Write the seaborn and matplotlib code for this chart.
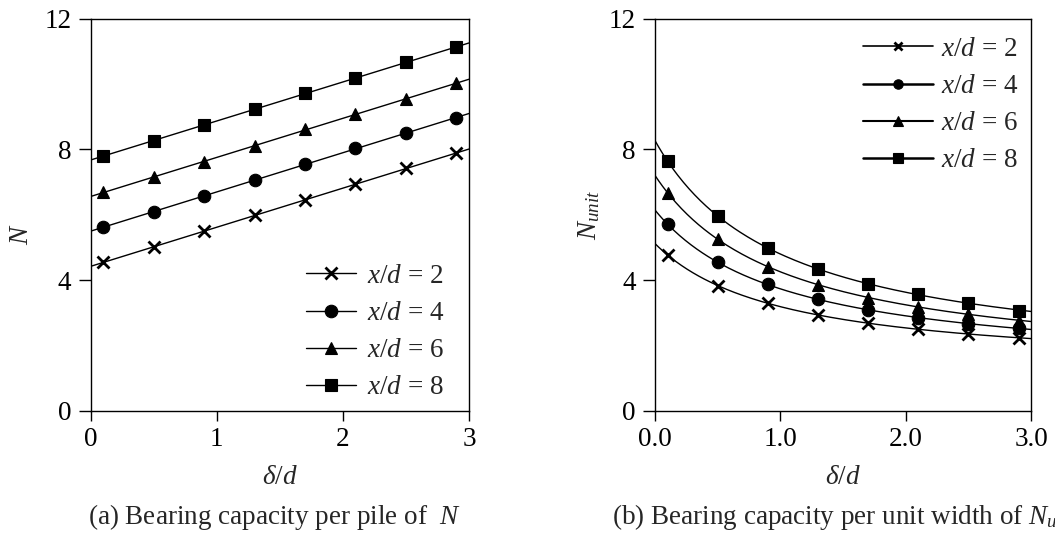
import numpy as np
import pandas as pd
import matplotlib
matplotlib.use("Agg")
import matplotlib.pyplot as plt
import seaborn as sns
from matplotlib.lines import Line2D

# ---------------- data ----------------
delta = [0.1, 0.5, 0.9, 1.3, 1.7, 2.1, 2.5, 2.9]
series_labels = ["2", "4", "6", "8"]
markers = ["x", "o", "^", "s"]

# (a) bearing capacity per pile N
N_2 = [4.54, 5.00, 5.51, 5.99, 6.45, 6.93, 7.42, 7.88]
N_4 = [5.61, 6.09, 6.58, 7.06, 7.55, 8.03, 8.51, 8.95]
N_6 = [6.68, 7.16, 7.62, 8.11, 8.61, 9.07, 9.55, 10.02]
N_8 = [7.80, 8.27, 8.74, 9.23, 9.72, 10.17, 10.66, 11.14]

# (b) bearing capacity per unit width N_unit
Nu_2 = [4.77, 3.82, 3.29, 2.93, 2.69, 2.50, 2.35, 2.22]
Nu_4 = [5.71, 4.54, 3.87, 3.41, 3.08, 2.85, 2.67, 2.52]
Nu_6 = [6.67, 5.25, 4.41, 3.86, 3.46, 3.18, 2.96, 2.76]
Nu_8 = [7.64, 5.96, 4.97, 4.35, 3.88, 3.56, 3.31, 3.06]

ticks_a_x = [0, 1, 2, 3]
ticks_a_xl = ["0", "1", "2", "3"]
ticks_b_xl = ["0.0", "1.0", "2.0", "3.0"]
ticks_y = [0, 4, 8, 12]

# ---------------- style ----------------
sns.set_theme(style="ticks")
plt.rcParams["font.family"] = ["Liberation Serif", "DejaVu Serif"]
plt.rcParams["mathtext.fontset"] = "custom"
plt.rcParams["mathtext.rm"] = "Liberation Serif"
plt.rcParams["mathtext.it"] = "Liberation Serif:italic"
plt.rcParams["axes.linewidth"] = 1.0
FS = 19.5

fig = plt.figure(figsize=(10.55, 5.42), dpi=100)
axA = fig.add_axes([0.086, 0.2422, 0.3585, 0.7233])
axB = fig.add_axes([0.6209, 0.2422, 0.3564, 0.7233])

x = np.array(delta)
xf = np.linspace(0, 3, 200)


def hyper_fit(xv, yv):
    best = None
    for c in np.linspace(0.05, 5, 400):
        A = np.column_stack([np.ones_like(xv), 1.0 / (xv + c)])
        coef, *_ = np.linalg.lstsq(A, yv, rcond=None)
        r = np.sum((A @ coef - yv) ** 2)
        if best is None or r < best[0]:
            best = (r, c, coef)
    _, c, coef = best
    return lambda t: coef[0] + coef[1] / (t + c)


def draw(ax, ys, kind):
    for lab, mk, yv in zip(series_labels, markers, ys):
        yv = np.array(yv)
        if kind == "lin":
            p = np.polyfit(x, yv, 1)
            yf = np.polyval(p, xf)
        else:
            yf = hyper_fit(x, yv)(xf)
        sns.lineplot(x=xf, y=yf, ax=ax, color="black", lw=1.0, legend=False)
        ms = 9 if mk != "x" else 8.5
        ax.plot(x, yv, linestyle="none", marker=mk, color="black",
                markersize=ms, markeredgewidth=2.0 if mk == "x" else 0.8,
                clip_on=False, zorder=3)


draw(axA, [N_2, N_4, N_6, N_8], "lin")
draw(axB, [Nu_2, Nu_4, Nu_6, Nu_8], "hyp")

for ax, xtl in ((axA, ticks_a_xl), (axB, ticks_b_xl)):
    ax.set_xlim(0, 3)
    ax.set_ylim(0, 12)
    ax.set_xticks(ticks_a_x)
    ax.set_xticklabels(xtl)
    ax.set_yticks(ticks_y)
    ax.set_yticklabels([str(t) for t in ticks_y])
    ax.tick_params(axis="y", direction="out", length=9, width=1.0,
                   labelsize=FS, pad=5, colors="black")
    ax.tick_params(axis="x", direction="out", length=7, width=1.0,
                   labelsize=FS, pad=5, colors="black")
    for s in ax.spines.values():
        s.set_visible(True)
        s.set_color("black")
        s.set_linewidth(1.0)
    ax.set_xlabel(r"$\delta/d$", fontsize=FS, labelpad=9)

axA.set_ylabel(r"$N$", fontsize=FS)
axA.yaxis.set_label_coords(-0.15, 0.45)
axB.set_ylabel(r"$N_{unit}$", fontsize=FS)
axB.yaxis.set_label_coords(-0.14, 0.5)


def handles(ms_scale, lws):
    hs = []
    for mk, lw in zip(markers, lws):
        hs.append(Line2D([0], [0], color="black", lw=lw, marker=mk,
                         markersize=(9 if mk != "x" else 8.5) * ms_scale,
                         markeredgewidth=2.0 if mk == "x" else 0.8))
    return hs


labels = [r"$x/d$ = " + s for s in series_labels]
axA.legend(handles(1.0, [1.0] * 4), labels, loc="lower right",
           bbox_to_anchor=(0.977, -0.015), frameon=False, fontsize=FS,
           handlelength=1.85, handletextpad=0.4, labelspacing=0.45,
           borderaxespad=0.2)
axB.legend(handles(0.75, [1.2, 1.8, 1.5, 1.8]), labels, loc="upper right",
           bbox_to_anchor=(1.01, 0.995), frameon=False, fontsize=FS,
           handlelength=2.6, handletextpad=0.3, labelspacing=0.45,
           borderaxespad=0.2)

fig.text(0.26, 0.047, r"(a) Bearing capacity per pile of  $N$",
         ha="center", va="center", fontsize=FS)
fig.text(0.580, 0.047, r"(b) Bearing capacity per unit width of $N_{unit}$",
         ha="left", va="center", fontsize=FS)

fig.savefig("out.png", dpi=100)
